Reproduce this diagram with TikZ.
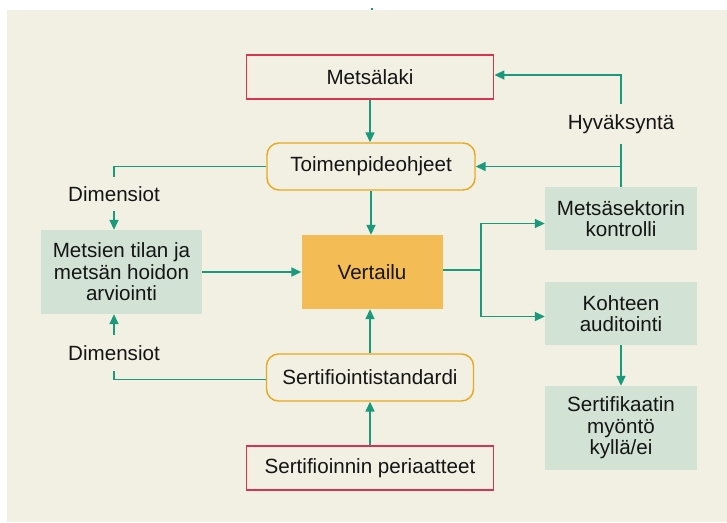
\documentclass[tikz,border=0pt]{standalone}
\usepackage{fontspec}
\setmainfont{Liberation Sans}
\usetikzlibrary{arrows.meta,calc}
\definecolor{cream}{HTML}{F2EFE3}
\definecolor{teal}{HTML}{1A9A7C}
\definecolor{redb}{HTML}{D9344F}
\definecolor{orab}{HTML}{E9A91E}
\definecolor{oraf}{HTML}{F3BC54}
\definecolor{greenf}{HTML}{D2E3D5}
\definecolor{txt}{HTML}{151515}
\begin{document}
\begin{tikzpicture}[x=1pt,y=-1pt,
  every node/.style={font=\fontsize{20.6}{21.5}\selectfont, text=txt, align=center, inner sep=0pt},
  redbox/.style={draw=redb, line width=1.8pt, fill=cream},
  roundbox/.style={draw=orab, line width=1.4pt, fill=cream, rounded corners=12pt},
  greenbox/.style={fill=greenf},
  orangebox/.style={fill=oraf},
  conn/.style={draw=teal, line width=1.6pt},
  arr/.style={conn, -{Triangle[length=10pt,width=9pt]}},
  lbl/.style={fill=none}
]
\useasboundingbox (0,0) rectangle (727,522);
\fill[cream] (7,10) rectangle (727,522);
\fill[teal] (370.7,8) rectangle (373,10);

\node[redbox, minimum width=247pt, minimum height=44pt] (law) at (370,77) {Metsälaki};
\node[roundbox, minimum width=208pt, minimum height=47pt] (toim) at (371,166.5) {Toimenpideohjeet};
\node[orangebox, minimum width=141pt, minimum height=74pt] (vert) at (372,272) {Vertailu};
\node[roundbox, minimum width=207pt, minimum height=47pt] (std) at (370,377.5) {Sertifiointistandardi};
\node[redbox, minimum width=247pt, minimum height=44pt] (prin) at (370,468) {Sertifioinnin periaatteet};

\node[greenbox, minimum width=161pt, minimum height=84pt] (eval) at (121.5,272) {Metsien tilan ja\\metsän hoidon\\arviointi};
\node[greenbox, minimum width=152pt, minimum height=63pt] (ctrl) at (621,218.5) {Metsäsektorin\\kontrolli};
\node[greenbox, minimum width=152pt, minimum height=63pt] (audit) at (621,313.5) {Kohteen\\auditointi};
\node[greenbox, minimum width=152pt, minimum height=84pt] (cert) at (621,428) {Sertifikaatin\\myöntö\\kyllä/ei};

\node[lbl, minimum height=40pt] (hyv) at (621,124) {Hyväksyntä};
\node[lbl, minimum height=34pt] (dim1) at (114,194) {Dimensiot};
\node[lbl, minimum height=36pt] (dim2) at (114,353) {Dimensiot};

\coordinate (split) at (481,270);

\draw[arr] (law.south) -- (law.south |- toim.north);
\draw[arr] (toim.south) -- (toim.south |- vert.north);
\draw[arr] (std.north) -- (std.north |- vert.south);
\draw[arr] (prin.north) -- (prin.north |- std.south);
\draw[arr] (eval.east) -- (vert.west);
\draw[conn] (vert.east |- split) -- (split);
\draw[arr] (split) |- ($(ctrl.west)+(0,5)$);
\draw[arr] (split) |- ($(audit.west)+(0,3)$);
\draw[arr] (audit.south) -- (cert.north);

\draw[conn] (ctrl.north) -- (hyv.south);
\draw[arr] (hyv.north) |- ($(law.east)+(0,-2)$);
\draw[arr] (ctrl.north |- toim.east) -- (toim.east);

\draw[conn] (toim.west) -| (dim1.north);
\draw[arr] (dim1.south) -- (dim1.south |- eval.north);
\draw[conn] ($(std.west)+(0,2)$) -| (dim2.south);
\draw[arr] (dim2.north) -- (dim2.north |- eval.south);
\end{tikzpicture}
\end{document}
